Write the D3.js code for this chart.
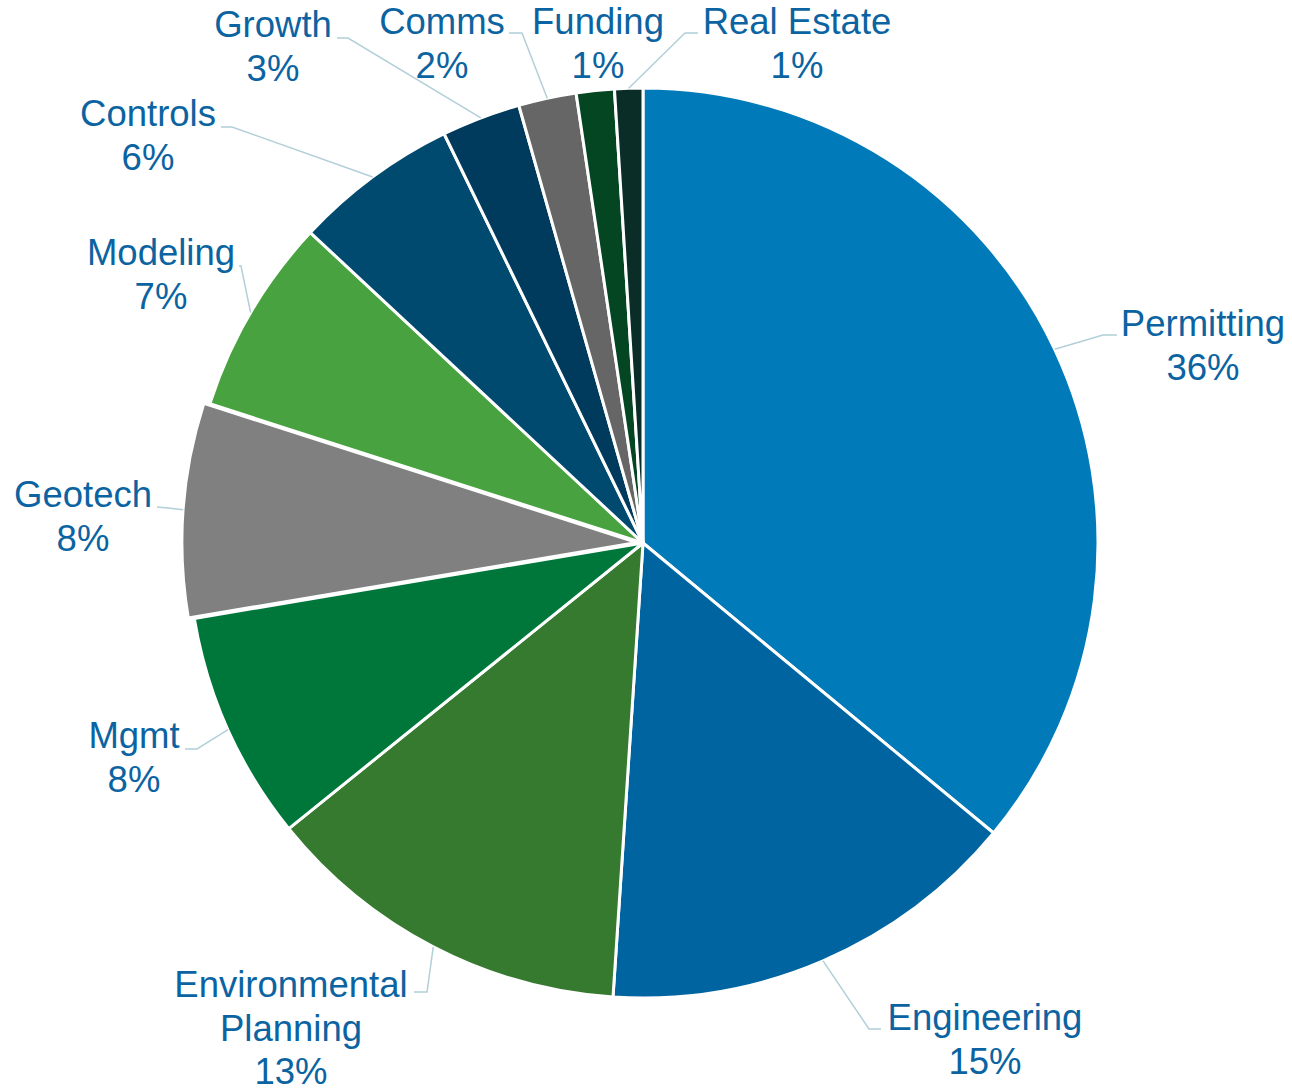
<!DOCTYPE html>
<html>
<head>
<meta charset="utf-8">
<script src="https://cdn.jsdelivr.net/npm/d3@7/dist/d3.min.js"></script>
<style>
  html, body { margin: 0; padding: 0; background: #ffffff; }
  svg { display: block; }
</style>
</head>
<body>
<svg id="chart" width="1292" height="1088"></svg>
<script>
// ---- Data ----
const categories = ["Permitting", "Engineering", "Environmental Planning", "Mgmt", "Geotech",
                    "Modeling", "Controls", "Growth", "Comms", "Funding", "Real Estate"];
const values = [36.0, 15.05, 13.15, 8.15, 7.6, 7.0, 5.85, 2.8, 2.05, 1.35, 1.0];
const labelLines = [["Permitting"], ["Engineering"], ["Environmental", "Planning"], ["Mgmt"], ["Geotech"],
                    ["Modeling"], ["Controls"], ["Growth"], ["Comms"], ["Funding"], ["Real Estate"]];

// ---- Styles / layout (not data) ----
const colors = ["#007ab9", "#0064a0", "#367a30", "#00773a", "#808080",
                "#47a23f", "#004a6f", "#003a5d", "#666666", "#034621", "#0a2d28"];
const explode = [0, 0, 0, 0, 6, 0, 0, 0, 0, 0, 0];
// label text centre x, first baseline y, leader elbow and end (null = no leader)
const labelLayout = [
  { x: 1203, y: 336, elbow: [1103, 335], end: [1117, 335] },
  { x: 985,  y: 1030, elbow: [869, 1029], end: [881, 1029] },
  { x: 291,  y: 997, elbow: [427, 992], end: [414, 992] },
  { x: 134,  y: 748, elbow: [197, 749], end: [185, 749] },
  { x: 83,   y: 507, elbow: [168, 508], end: [157, 507] },
  { x: 161,  y: 265, elbow: [241, 266], end: [239, 266] },
  { x: 148,  y: 126, elbow: [232, 127], end: [221, 127] },
  { x: 273,  y: 37,  elbow: [348, 38], end: [337, 38] },
  { x: 442,  y: 34,  elbow: [522, 33], end: [509, 33] },
  { x: 598,  y: 34,  elbow: null, end: null },
  { x: 797,  y: 34,  elbow: [685, 33], end: [698, 33] }
];

const cx = 643, cy = 543, R = 455;
const fontSize = 36.5, lineH = 43.5;
const textColor = "#0b64a1", leaderColor = "#b3cfd9";

const svg = d3.select("#chart");
const g = svg.append("g").attr("transform", `translate(${cx},${cy})`);

const data = categories.map((c, i) => ({ name: c, value: values[i], i }));
const pie = d3.pie().value(d => d.value).sort(null);
const arcs = pie(data);
const arc = d3.arc().innerRadius(0).outerRadius(R);
const total = d3.sum(values);

function offsetFor(a) {
  const mid = (a.startAngle + a.endAngle) / 2;
  const e = explode[a.data.i];
  return [e * Math.sin(mid), -e * Math.cos(mid)];
}

g.selectAll("path.slice").data(arcs).join("path")
  .attr("class", "slice")
  .attr("d", arc)
  .attr("transform", a => { const o = offsetFor(a); return `translate(${o[0]},${o[1]})`; })
  .attr("fill", a => colors[a.data.i])
  .attr("stroke", "#ffffff")
  .attr("stroke-width", 3)
  .attr("stroke-linejoin", "round");

// leader lines
const lg = svg.append("g");
arcs.forEach(a => {
  const L = labelLayout[a.data.i];
  if (!L.elbow) return;
  const mid = (a.startAngle + a.endAngle) / 2;
  const o = offsetFor(a);
  const sx = cx + o[0] + R * Math.sin(mid);
  const sy = cy + o[1] - R * Math.cos(mid);
  lg.append("polyline")
    .attr("points", [[sx, sy], L.elbow, L.end].map(p => p.join(",")).join(" "))
    .attr("fill", "none")
    .attr("stroke", leaderColor)
    .attr("stroke-width", 1.5);
});

// labels
const tg = svg.append("g")
  .attr("font-family", "'Liberation Sans', Arial, sans-serif")
  .attr("font-size", fontSize)
  .attr("fill", textColor)
  .attr("text-anchor", "middle");
arcs.forEach(a => {
  const i = a.data.i;
  const L = labelLayout[i];
  const lines = labelLines[i].concat([Math.round(a.data.value / total * 100) + "%"]);
  const t = tg.append("text").attr("x", L.x).attr("y", L.y);
  lines.forEach((ln, k) => {
    t.append("tspan").attr("x", L.x).attr("y", L.y + k * lineH).text(ln);
  });
});
</script>
</body>
</html>
